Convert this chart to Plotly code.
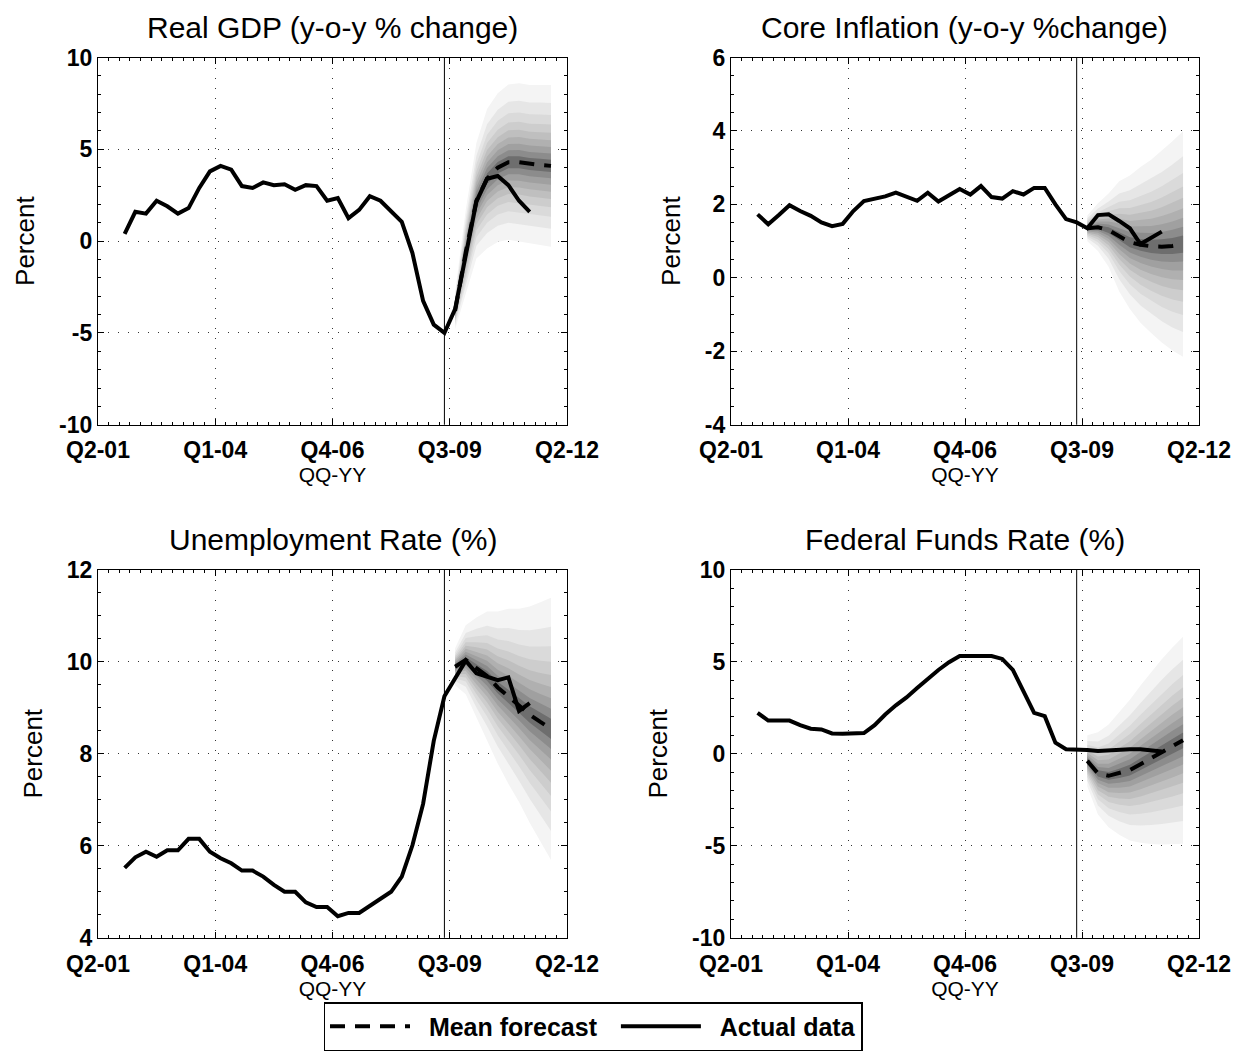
import plotly.graph_objects as go
from statistics import NormalDist

# ---------------------------------------------------------------------------
# Quarterly time axis (positions counted in quarters from Q2-01, obs. mid-quarter)
# ---------------------------------------------------------------------------
tick_labels = ["Q2-01", "Q1-04", "Q4-06", "Q3-09", "Q2-12"]
actual_start = "Q4-01"
forecast_start = "Q3-09"
last_actual_before_forecast = "Q2-09"


def qpos(label, mid=True):
    q = int(label[1])
    yy = int(label[3:])
    idx = (yy - 1) * 4 + (q - 2)
    return idx + (0.5 if mid else 0.0)


def qrange(first, n):
    q, yy = int(first[1]), int(first[3:])
    out = []
    for _ in range(n):
        out.append(f"Q{q}-{yy:02d}")
        q += 1
        if q > 4:
            q, yy = 1, yy + 1
    return out


# ---------------------------------------------------------------------------
# Data
# ---------------------------------------------------------------------------
gdp_actual = [0.4, 1.6, 1.5, 2.2, 1.9, 1.5, 1.8, 2.9, 3.8, 4.1,
              3.9, 3.0, 2.9, 3.2, 3.05, 3.1, 2.8, 3.05, 3.0, 2.2,
              2.35, 1.25, 1.7, 2.45, 2.2, 1.6, 1.05, -0.65, -3.25, -4.55,
              -5.0, -3.7, -0.7, 2.15, 3.4, 3.55, 3.05, 2.2, 1.6]
gdp_mean = [-3.8, -0.6, 2.2, 3.4, 4.0, 4.3, 4.3, 4.2, 4.15, 4.1]
gdp_band90 = [1.0, 2.3, 3.15, 3.8, 4.05, 4.23, 4.3, 4.3, 4.36, 4.4]
gdp_ticks = [-10, -5, 0, 5, 10]

core_actual = [1.73, 1.46, 1.71, 1.98, 1.82, 1.69, 1.51, 1.41, 1.47, 1.82,
               2.09, 2.16, 2.22, 2.32, 2.2, 2.1, 2.32, 2.08, 2.25, 2.42,
               2.27, 2.5, 2.2, 2.16, 2.36, 2.27, 2.45, 2.45, 2.0, 1.6,
               1.51, 1.35, 1.71, 1.73, 1.55, 1.35, 0.92, 1.08, 1.26]
core_mean = [1.35, 1.38, 1.3, 1.13, 0.97, 0.9, 0.86, 0.85, 0.87, 0.92]
core_band90 = [0.35, 0.65, 1.0, 1.5, 1.82, 2.12, 2.36, 2.61, 2.85, 3.07]
core_ticks = [-4, -2, 0, 2, 4, 6]

unemp_actual = [5.52, 5.75, 5.87, 5.76, 5.9, 5.9, 6.15, 6.15, 5.87, 5.73,
                5.62, 5.46, 5.46, 5.33, 5.15, 5.0, 5.0, 4.77, 4.67, 4.67,
                4.47, 4.54, 4.54, 4.7, 4.84, 5.0, 5.33, 6.01, 6.91, 8.28,
                9.25, 9.64, 10.02, 9.75, 9.68, 9.6, 9.66, 8.93, 9.1]
unemp_mean = [9.89, 10.04, 9.86, 9.69, 9.44, 9.25, 9.05, 8.85, 8.69, 8.54]
unemp_band90 = [0.4, 0.75, 1.1, 1.4, 1.65, 1.9, 2.1, 2.35, 2.6, 2.85]
unemp_ticks = [4, 6, 8, 10, 12]

ffr_actual = [2.22, 1.8, 1.8, 1.8, 1.55, 1.36, 1.32, 1.1, 1.08, 1.08,
              1.12, 1.55, 2.13, 2.63, 3.06, 3.57, 4.07, 4.55, 4.97, 5.31,
              5.31, 5.31, 5.31, 5.15, 4.55, 3.39, 2.22, 2.04, 0.6, 0.24,
              0.24, 0.2, 0.15, 0.18, 0.24, 0.24, 0.24, 0.18, 0.12]
ffr_mean = [-0.39, -1.07, -1.2, -1.07, -0.89, -0.57, -0.24, 0.1, 0.42, 0.73]
ffr_band90 = [1.39, 2.23, 2.79, 3.33, 3.82, 4.27, 4.66, 5.03, 5.35, 5.62]
ffr_ticks = [-10, -5, 0, 5, 10]

panels = [
    dict(title="Real GDP (y-o-y % change)", actual=gdp_actual, mean=gdp_mean,
         band=gdp_band90, ticks=gdp_ticks, minor=1),
    dict(title="Core Inflation (y-o-y %change)", actual=core_actual, mean=core_mean,
         band=core_band90, ticks=core_ticks, minor=0.5),
    dict(title="Unemployment Rate (%)", actual=unemp_actual, mean=unemp_mean,
         band=unemp_band90, ticks=unemp_ticks, minor=0.5),
    dict(title="Federal Funds Rate (%)", actual=ffr_actual, mean=ffr_mean,
         band=ffr_band90, ticks=ffr_ticks, minor=1),
]

# Fan: central 90% interval split into 5% quantile steps
quantile_levels = [0.05, 0.10, 0.15, 0.20, 0.25, 0.30, 0.35, 0.40, 0.45]
fan_shades = ["#f4f4f4", "#e6e6e6", "#dadada", "#cdcdcd", "#bfbfbf",
              "#b0b0b0", "#a0a0a0", "#8c8c8c", "#6e6e6e"]

# ---------------------------------------------------------------------------
# Layout geometry
# ---------------------------------------------------------------------------
W, H = 1238, 1051
x_domains = [[98 / W, 567 / W], [731 / W, 1199 / W]]
y_domains = [[1 - 428 / H, 1 - 58 / H], [1 - 945 / H, 1 - 574 / H]]
FONT = "Liberation Sans, Arial, Helvetica, sans-serif"
NBSP = "\u00a0"

fig = go.Figure()
nd = NormalDist()
z90 = nd.inv_cdf(0.95)

x_actual = [qpos(q) for q in qrange(actual_start, len(gdp_actual))]
x_fc = [qpos(q) for q in qrange(forecast_start, len(gdp_mean))]
x_vline = qpos(last_actual_before_forecast)

for i, p in enumerate(panels):
    row, col = divmod(i, 2)
    n = i + 1
    xa = "x" if n == 1 else f"x{n}"
    ya = "y" if n == 1 else f"y{n}"

    # fan bands, outermost (lightest) first
    for lvl, shade in zip(quantile_levels, fan_shades):
        z = nd.inv_cdf(1 - lvl) / z90
        upper = [m + z * b for m, b in zip(p["mean"], p["band"])]
        lower = [m - z * b for m, b in zip(p["mean"], p["band"])]
        fig.add_trace(go.Scatter(
            x=x_fc + x_fc[::-1], y=upper + lower[::-1],
            fill="toself", fillcolor=shade, mode="lines",
            line=dict(width=0, color=shade), hoverinfo="skip",
            showlegend=False, xaxis=xa, yaxis=ya))

    fig.add_trace(go.Scatter(
        x=x_fc, y=p["mean"], mode="lines", name=NBSP * 2 + "Mean forecast" + NBSP * 2,
        line=dict(color="black", width=4, dash="15px,10px"),
        showlegend=(i == 0), legendrank=1, xaxis=xa, yaxis=ya))
    fig.add_trace(go.Scatter(
        x=x_actual, y=p["actual"], mode="lines", name=NBSP * 2 + "Actual data",
        line=dict(color="black", width=4),
        showlegend=(i == 0), legendrank=2, xaxis=xa, yaxis=ya))

    # forecast origin marker
    fig.add_shape(type="line", xref=xa, yref=f"{ya} domain",
                  x0=x_vline, x1=x_vline, y0=0, y1=1,
                  line=dict(color="black", width=1))

    axis_common = dict(
        showline=True, linecolor="black", linewidth=1.2, mirror="ticks",
        ticks="inside", ticklen=6, tickcolor="black",
        showgrid=True, gridcolor="#333333", gridwidth=1, griddash="1px,9px",
        zeroline=False, automargin=False,
        tickfont=dict(family=FONT, size=23, color="black", weight="bold"),
    )
    fig.update_layout({
        ("xaxis" if n == 1 else f"xaxis{n}"): dict(
            axis_common, domain=x_domains[col], anchor=ya,
            range=[0, 44], tickmode="array",
            tickvals=[qpos(t, mid=False) for t in tick_labels], ticktext=tick_labels,
            ticklabelstandoff=5,
            minor=dict(ticks="inside", ticklen=3, tickcolor="black", dtick=1, showgrid=False),
            title=dict(text="QQ-YY", standoff=3,
                       font=dict(family=FONT, size=21, color="black"))),
        ("yaxis" if n == 1 else f"yaxis{n}"): dict(
            axis_common, domain=y_domains[row], anchor=xa,
            range=[p["ticks"][0], p["ticks"][-1]], tickmode="array",
            tickvals=p["ticks"], ticktext=[str(t) for t in p["ticks"]],
            minor=dict(ticks="inside", ticklen=3, tickcolor="black", dtick=p["minor"], showgrid=False),
            title=dict(text="Percent", standoff=16,
                       font=dict(family=FONT, size=26, color="black"))),
    })

    fig.add_annotation(
        text=p["title"], xref="paper", yref="paper",
        x=sum(x_domains[col]) / 2, y=y_domains[row][1] + 30 / H,
        xanchor="center", yanchor="middle", showarrow=False,
        font=dict(family=FONT, size=30, color="black"))

fig.update_layout(
    width=W, height=H,
    margin=dict(l=0, r=0, t=0, b=0),
    paper_bgcolor="white", plot_bgcolor="white",
    font=dict(family=FONT, color="black"),
    showlegend=True,
    legend=dict(
        orientation="h", x=593 / W, xanchor="center", y=1 - 1010 / H, yanchor="top",
        bgcolor="white", bordercolor="black", borderwidth=1.5,
        font=dict(family=FONT, size=25, color="black", weight="bold"),
        itemwidth=80, traceorder="normal"),
)

fig.write_html("out.html")
